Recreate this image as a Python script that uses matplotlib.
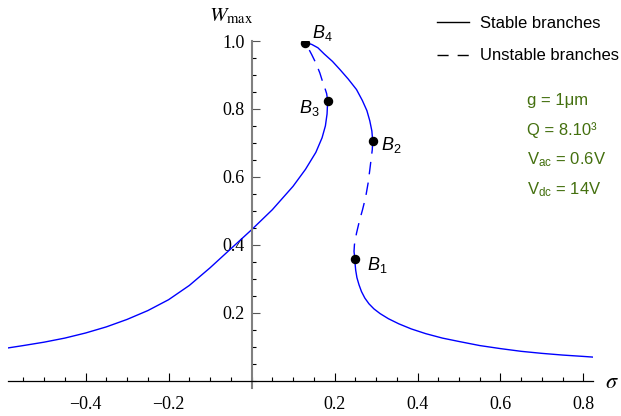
import matplotlib.pyplot as plt
from matplotlib.lines import Line2D
from matplotlib.ticker import MultipleLocator

plt.rcParams['font.family'] = ['Liberation Serif', 'DejaVu Serif']
plt.rcParams['mathtext.fontset'] = 'custom'
plt.rcParams['mathtext.rm'] = 'Liberation Sans'
plt.rcParams['mathtext.it'] = 'Liberation Sans:italic'
plt.rcParams['lines.scale_dashes'] = False

# Branches of the response curve (sigma, W_max)
# -------------------------------------------------------------
# stable, low-frequency side, up to B3
sig_a = [-0.587, -0.55, -0.5, -0.45, -0.4, -0.35, -0.3, -0.25, -0.2, -0.15,
         -0.1, -0.05, 0.0, 0.05, 0.1, 0.13, 0.155, 0.17, 0.178, 0.182, 0.1835]
w_a = [0.096, 0.103, 0.113, 0.125, 0.140, 0.158, 0.180, 0.206, 0.238, 0.280,
       0.332, 0.388, 0.444, 0.503, 0.572, 0.622, 0.672, 0.715, 0.750, 0.785,
       0.824]

# unstable, B3 -> B4
sig_b = [0.1835, 0.181, 0.1766, 0.170, 0.1646, 0.155, 0.145, 0.135, 0.130]
w_b = [0.824, 0.845, 0.862, 0.885, 0.906, 0.935, 0.96, 0.983, 0.995]

# stable, B4 -> B2
sig_c = [0.130, 0.145, 0.16, 0.175, 0.195, 0.213, 0.233, 0.253, 0.267, 0.278,
         0.285, 0.290, 0.292]
w_c = [0.995, 0.99, 0.98, 0.962, 0.94, 0.916, 0.888, 0.857, 0.825, 0.795,
       0.765, 0.735, 0.705]

# unstable, B2 -> B1
sig_d = [0.292, 0.291, 0.289, 0.285, 0.281, 0.275, 0.2675, 0.26, 0.253, 0.248,
         0.247, 0.249]
w_d = [0.705, 0.68, 0.66, 0.62, 0.582, 0.54, 0.503, 0.47, 0.434, 0.40,
       0.38, 0.358]

# stable, high-frequency side, from B1
sig_e = [0.249, 0.2495, 0.251, 0.254, 0.259, 0.265, 0.273, 0.283, 0.295,
         0.31, 0.33, 0.355, 0.385, 0.42, 0.46, 0.5, 0.55, 0.6, 0.65, 0.7,
         0.75, 0.8, 0.823]
w_e = [0.358, 0.345, 0.325, 0.303, 0.282, 0.262, 0.243, 0.226, 0.211,
       0.197, 0.182, 0.167, 0.152, 0.138, 0.125, 0.115, 0.103, 0.094, 0.086,
       0.080, 0.075, 0.071, 0.069]

# bifurcation points
b_names = ['$B_1$', '$B_2$', '$B_3$', '$B_4$']
b_sig = [0.249, 0.292, 0.1835, 0.130]
b_w = [0.358, 0.705, 0.824, 0.995]
b_offsets = [(9, -4), (6, -3), (-6, -5), (5, 7)]   # label offsets, points
b_align = ['left', 'left', 'right', 'left']

x_ticks = [-0.4, -0.2, 0.2, 0.4, 0.6, 0.8]
x_labels = ['\u22120.4', '\u22120.2', '0.2', '0.4', '0.6', '0.8']
y_ticks = [0.2, 0.4, 0.6, 0.8, 1.0]
y_labels = ['0.2', '0.4', '0.6', '0.8', '1.0']

params = ['g = 1\u03bcm', 'Q = 8.10\u00b3',
          'V$_{\\rm ac}$ = 0.6V', 'V$_{\\rm dc}$ = 14V']
# -------------------------------------------------------------

fig = plt.figure(figsize=(6.21, 4.16), dpi=100)
ax = fig.add_axes([8 / 621, 28 / 416, 585 / 621, 347 / 416])

blue = '#0000ff'
dash = (0, (9.0, 6.0))
lw = 1.0

ax.plot(sig_a, w_a, color=blue, lw=lw)
ax.plot(sig_b, w_b, color=blue, lw=lw, linestyle=dash)
ax.plot(sig_c, w_c, color=blue, lw=lw)
ax.plot(sig_d, w_d, color=blue, lw=lw, linestyle=dash)
ax.plot(sig_e, w_e, color=blue, lw=lw)

ax.plot(b_sig, b_w, 'o', color='black', markersize=5.8, zorder=5)
for name, s, w, off, ha in zip(b_names, b_sig, b_w, b_offsets, b_align):
    ax.annotate(name, (s, w), xytext=off, textcoords='offset points',
                ha=ha, va='center', fontsize=13, family='Liberation Sans',
                math_fontfamily='custom')

ax.set_xlim(-0.587, 0.823)
ax.set_ylim(-0.022, 1.0)

# Mathematica style axes through the origin
ax.spines['top'].set_visible(False)
ax.spines['right'].set_visible(False)
ax.spines['left'].set_position(('data', 0))
ax.spines['bottom'].set_position(('data', 0))
ax.spines['left'].set_color('#808080')
ax.spines['left'].set_linewidth(1.5)
ax.spines['bottom'].set_linewidth(0.9)

ax.set_xticks(x_ticks)
ax.set_xticklabels(x_labels)
ax.set_yticks(y_ticks)
ax.set_yticklabels(y_labels)
ax.xaxis.set_minor_locator(MultipleLocator(0.05))
ax.yaxis.set_minor_locator(MultipleLocator(0.05))

ax.tick_params(which='both', direction='in', labelsize=13)
ax.tick_params(which='major', length=5.5, width=0.8)
ax.tick_params(which='minor', length=3, width=0.8)
ax.tick_params(axis='x', pad=11)
ax.tick_params(axis='y', pad=5, color='#555555')

fig.text(231 / 621, 1 - 16 / 416, r'$W_{\rm max}$', fontsize=15,
         ha='center', va='center', math_fontfamily='stix')
fig.text(612 / 621, 1 - 383 / 416, r'$\sigma$', fontsize=16,
         ha='center', va='center', math_fontfamily='stix')

handles = [Line2D([], [], color='black', lw=1.0),
           Line2D([], [], color='black', lw=1.0, linestyle=(0, (8, 6.5)))]
fig.legend(handles, ['Stable branches', 'Unstable branches'],
           loc='upper left', bbox_to_anchor=(437 / 621, 1 - 16 / 416),
           frameon=False, borderpad=0, borderaxespad=0, handlelength=1.9,
           handletextpad=0.7, labelspacing=1.05,
           prop={'family': 'Liberation Sans', 'size': 12})

green = '#44700f'
for i, txt in enumerate(params):
    fig.text(527 / 621, 1 - (100 + 30 * i) / 416, txt, fontsize=12,
             color=green, ha='left', va='center', family='Liberation Sans',
             math_fontfamily='custom')

plt.savefig('out.png', dpi=100)
